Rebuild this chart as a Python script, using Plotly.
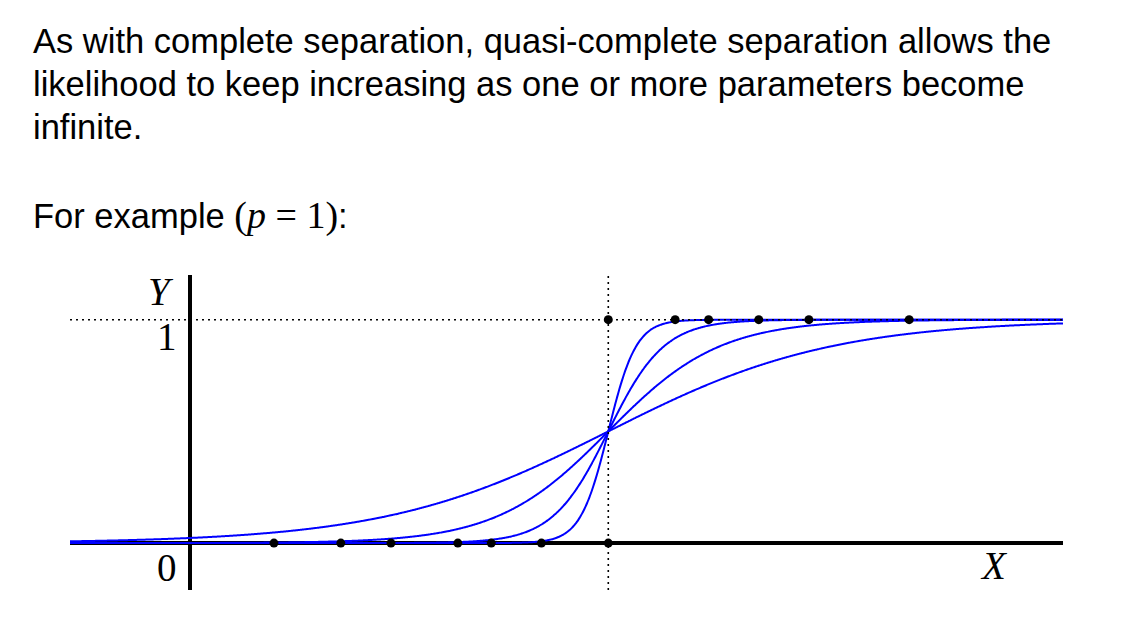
import numpy as np
import plotly.graph_objects as go

# ---- data ----
x_zero = [1.0, 1.8, 2.4, 3.2, 3.6, 4.2, 5.0]      # observations with Y = 0
y_zero = [0, 0, 0, 0, 0, 0, 0]
x_one = [5.0, 5.8, 6.2, 6.8, 7.4, 8.6]            # observations with Y = 1
y_one = [1, 1, 1, 1, 1, 1]
slopes = [0.75, 1.5, 3.0, 6.0]                    # logistic slopes of the curves
center = 5.0                                      # separation point
x_range = [-1.44, 10.44]
y_range = [-0.21, 1.20]

# ---- layout geometry (pixels) ----
W, H = 1135, 636
L, R, T, B = 70, 72, 275, 46
PW, PH = W - L - R, H - T - B


def px(x):
    return (x - L) / PW


def py(y):
    return (H - B - y) / PH


fig = go.Figure()

xs = np.linspace(x_range[0], x_range[1], 800)
for b in slopes:
    fig.add_trace(go.Scatter(
        x=xs, y=1.0 / (1.0 + np.exp(-b * (xs - center))),
        mode="lines", line=dict(color="#0000ff", width=2, shape="spline"),
        hoverinfo="skip"))

# dotted guides
fig.add_trace(go.Scatter(x=x_range, y=[1, 1], mode="lines",
                         line=dict(color="black", width=1.6, dash="2px,4px"),
                         hoverinfo="skip"))
fig.add_trace(go.Scatter(x=[center, center], y=y_range, mode="lines",
                         line=dict(color="black", width=1.6, dash="2px,4px"),
                         hoverinfo="skip"))

# observations
fig.add_trace(go.Scatter(x=x_zero, y=y_zero, mode="markers",
                         marker=dict(color="black", size=9), hoverinfo="skip"))
fig.add_trace(go.Scatter(x=x_one, y=y_one, mode="markers",
                         marker=dict(color="black", size=9), hoverinfo="skip"))

sans = "Liberation Sans, Arial, sans-serif"
serif = "Liberation Serif, Times New Roman, serif"

annotations = []


def add_text(text, x, y, font, size, xanchor="left"):
    annotations.append(dict(
        text=text, x=px(x), y=py(y), xref="paper", yref="paper",
        xanchor=xanchor, yanchor="middle", showarrow=False,
        font=dict(family=font, size=size, color="black")))


body = [
    "As with complete separation, quasi-complete separation allows the",
    "likelihood to keep increasing as one or more parameters become",
    "infinite.",
]
for i, line in enumerate(body):
    add_text(line, 31, 41 + 43 * i, sans, 34.5)

math = ("For example <span style='font-family:Liberation Serif;font-size:38px'>"
        "(<i>p</i> = 1)</span>:")
add_text(math, 31, 215, sans, 34.5)

add_text("<i>Y</i>", 161, 291, serif, 39, "center")
add_text("1", 167, 336, serif, 39, "center")
add_text("0", 167, 567, serif, 39, "center")
add_text("<i>X</i>", 994, 565, serif, 39, "center")

fig.update_layout(
    width=W, height=H,
    margin=dict(l=L, r=R, t=T, b=B, pad=0),
    paper_bgcolor="white", plot_bgcolor="white",
    showlegend=False, hovermode=False,
    annotations=annotations,
    xaxis=dict(range=x_range, showgrid=False, showticklabels=False,
               zeroline=True, zerolinecolor="black", zerolinewidth=3.5,
               showline=False, ticks=""),
    yaxis=dict(range=y_range, showgrid=False, showticklabels=False,
               zeroline=True, zerolinecolor="black", zerolinewidth=3.5,
               showline=False, ticks=""),
)

fig.write_html("out.html", config={"displayModeBar": False})
